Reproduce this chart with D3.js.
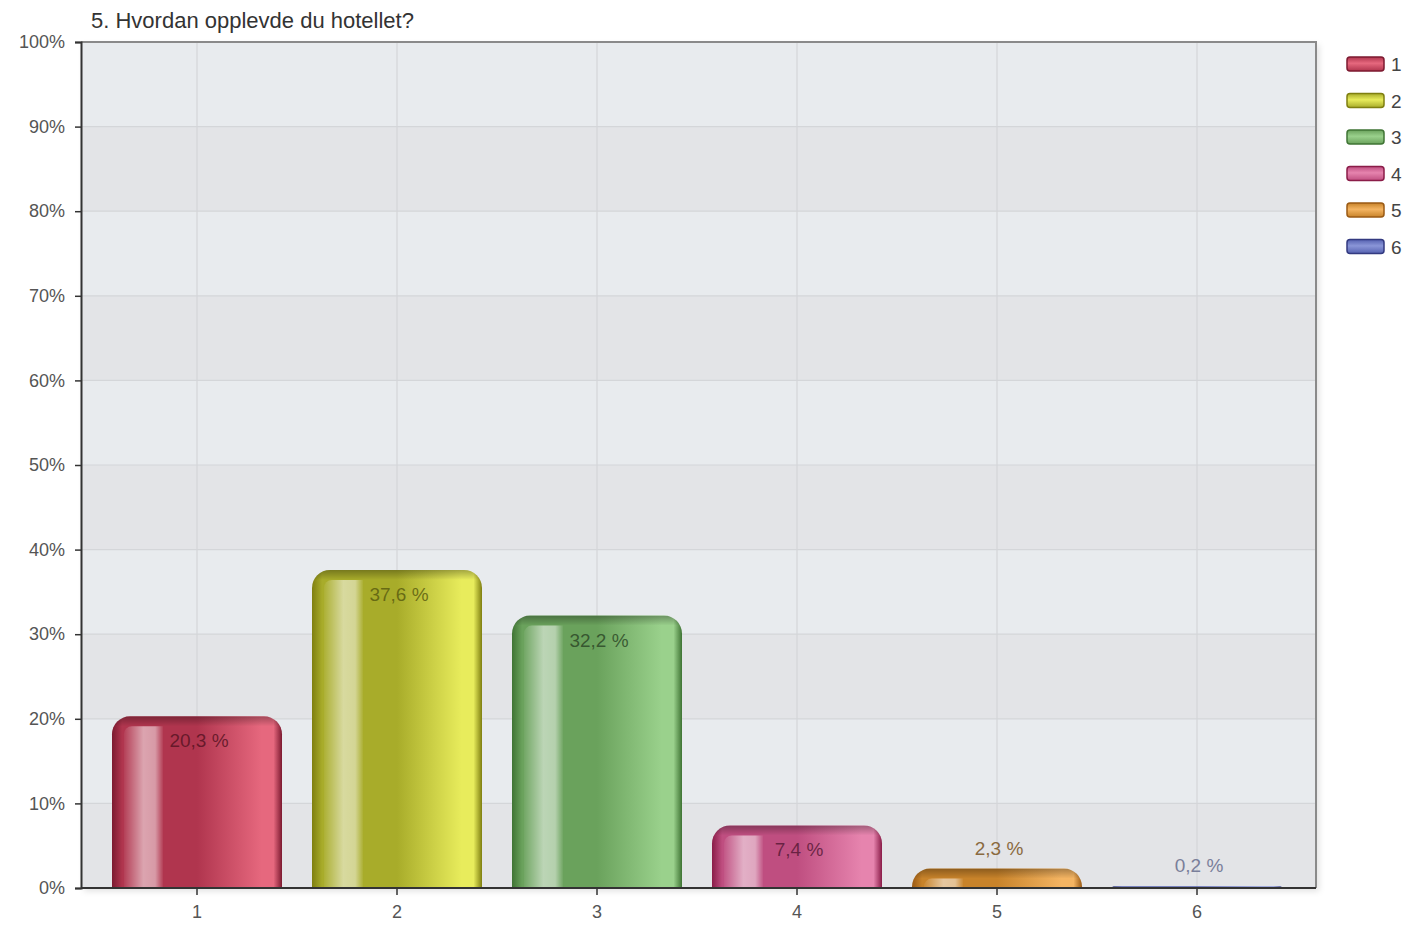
<!DOCTYPE html>
<html>
<head>
<meta charset="utf-8">
<script src="https://d3js.org/d3.v7.min.js"></script>
<style>
  body { margin: 0; background: #fff; }
  svg text { font-family: "Liberation Sans", Arial, sans-serif; }
</style>
</head>
<body>
<div id="chart"></div>
<script>
// Data
const categories = ["1", "2", "3", "4", "5", "6"];
const values = [20.3, 37.6, 32.2, 7.4, 2.3, 0.2];
const labels = ["20,3 %", "37,6 %", "32,2 %", "7,4 %", "2,3 %", "0,2 %"];
const yTicks = [0, 10, 20, 30, 40, 50, 60, 70, 80, 90, 100];
const title = "5. Hvordan opplevde du hotellet?";

// bar colours: dark edge, mid, light
const palette = [
  { dark: "#7c1a30", mid: "#b0354e", light: "#e6687e", text: "#5a1424" },
  { dark: "#7f7f10", mid: "#a8ac2a", light: "#e8ec5c", text: "#5c5e10" },
  { dark: "#3f7434", mid: "#6aa25c", light: "#9ad18c", text: "#2e4a28" },
  { dark: "#8a1c48", mid: "#bf4e80", light: "#e684ae", text: "#5a1a38" },
  { dark: "#9a5a14", mid: "#c8832a", light: "#f4b462", text: "#8a6a40" },
  { dark: "#333a80", mid: "#5561b0", light: "#8a96d8", text: "#7a7f9a" }
];

const margin = { top: 42, right: 92, bottom: 38, left: 81 };
const totalW = 1408, totalH = 926;
const width = totalW - margin.left - margin.right;
const height = totalH - margin.top - margin.bottom;

const svgRoot = d3.select("#chart").append("svg")
  .attr("width", totalW)
  .attr("height", totalH);

const defs = svgRoot.append("defs");

// drop shadow for plot area
const shadow = defs.append("filter").attr("id", "shadow")
  .attr("x", "-2%").attr("y", "-2%").attr("width", "105%").attr("height", "106%");
shadow.append("feDropShadow").attr("dx", 3).attr("dy", 3).attr("stdDeviation", 3)
  .attr("flood-color", "#000").attr("flood-opacity", 0.12);

palette.forEach((p, i) => {
  const g = defs.append("linearGradient").attr("id", "barGrad" + i)
    .attr("x1", "0%").attr("x2", "100%").attr("y1", "0%").attr("y2", "0%");
  [[0, p.dark], [0.06, p.mid], [0.5, p.mid], [0.88, p.light], [0.95, p.light], [1, p.dark]]
    .forEach(s => g.append("stop").attr("offset", s[0]).attr("stop-color", s[1]));
});

const hl = defs.append("linearGradient").attr("id", "hlGrad")
  .attr("x1", "0%").attr("x2", "100%");
[[0, 0.05], [0.5, 0.55], [0.8, 0.5], [1, 0.05]]
  .forEach(s => hl.append("stop").attr("offset", s[0]).attr("stop-color", "#fff").attr("stop-opacity", s[1]));

const topShade = defs.append("linearGradient").attr("id", "topGrad")
  .attr("x1", "0%").attr("x2", "0%").attr("y1", "0%").attr("y2", "100%");
[[0, 0.3], [1, 0]]
  .forEach(s => topShade.append("stop").attr("offset", s[0]).attr("stop-color", "#000").attr("stop-opacity", s[1]));

const svg = svgRoot.append("g")
  .attr("transform", `translate(${margin.left},${margin.top})`);

// Scales
const x = d3.scaleBand()
  .domain(categories)
  .range([16, width - 19])
  .paddingInner(0.15)
  .paddingOuter(0.075);

const y = d3.scaleLinear()
  .domain([0, 100])
  .range([height, 0]);

// Plot background with shadow
svg.append("rect")
  .attr("x", 0).attr("y", 0)
  .attr("width", width).attr("height", height)
  .attr("fill", "#e6e8eb")
  .attr("filter", "url(#shadow)");

// alternating stripes
yTicks.slice(0, -1).forEach((t, i) => {
  svg.append("rect")
    .attr("x", 0)
    .attr("y", y(t + 10))
    .attr("width", width)
    .attr("height", y(t) - y(t + 10))
    .attr("fill", i % 2 === 0 ? "#e3e4e7" : "#e8ebee");
});

// horizontal grid
svg.selectAll(".hgrid")
  .data(yTicks.slice(1, -1))
  .enter().append("line")
  .attr("x1", 0).attr("x2", width)
  .attr("y1", d => y(d)).attr("y2", d => y(d))
  .attr("stroke", "#d4d6d9").attr("stroke-width", 1.2);

// vertical grid at band centers
svg.selectAll(".vgrid")
  .data(categories)
  .enter().append("line")
  .attr("x1", d => x(d) + x.bandwidth() / 2)
  .attr("x2", d => x(d) + x.bandwidth() / 2)
  .attr("y1", 0).attr("y2", height)
  .attr("stroke", "#d4d6d9").attr("stroke-width", 1.2);

// border top/right
svg.append("path")
  .attr("d", `M0,0H${width}V${height}`)
  .attr("fill", "none")
  .attr("stroke", "#8a8a8a")
  .attr("stroke-width", 2);

// Bars
const r = 18;
function barPath(x0, y0, w, h) {
  const rr = Math.min(r, h, w / 2);
  return `M${x0},${y0 + h}V${y0 + rr}A${rr},${rr} 0 0 1 ${x0 + rr},${y0}H${x0 + w - rr}A${rr},${rr} 0 0 1 ${x0 + w},${y0 + rr}V${y0 + h}Z`;
}

categories.forEach((c, i) => {
  const bx = x(c);
  const bw = x.bandwidth();
  const by = y(values[i]);
  const bh = height - by;
  const g = svg.append("g");
  const d = barPath(bx, by, bw, bh);

  defs.append("clipPath").attr("id", "clip" + i)
    .append("path").attr("d", d);

  g.append("path")
    .attr("d", d)
    .attr("fill", `url(#barGrad${i})`);

  if (bh > 12) {
    const inner = g.append("g").attr("clip-path", `url(#clip${i})`);
    // highlight strip
    const hx = bx + bw * 0.07;
    const hw = bw * 0.23;
    const hy = by + 10;
    inner.append("path")
      .attr("d", `M${hx},${by + bh}V${hy + 8}A8,8 0 0 1 ${hx + 8},${hy}H${hx + hw}V${by + bh}Z`)
      .attr("fill", "url(#hlGrad)");
    // top bevel
    inner.append("rect")
      .attr("x", bx).attr("y", by)
      .attr("width", bw).attr("height", Math.min(10, bh))
      .attr("fill", "url(#topGrad)");
  }

  // value label
  const inside = bh > 40;
  g.append("text")
    .attr("x", bx + bw / 2 + 2)
    .attr("y", inside ? by + 31 : by - 14)
    .attr("text-anchor", "middle")
    .attr("font-size", 19)
    .attr("fill", palette[i].text)
    .attr("fill-opacity", inside ? 0.85 : 1)
    .text(labels[i]);
});

// Axes
const yAxis = svg.append("g")
  .call(d3.axisLeft(y).tickValues(yTicks).tickFormat(d => d + "%").tickSize(6).tickPadding(10));
yAxis.select(".domain").attr("stroke", "#333").attr("stroke-width", 2);
yAxis.selectAll(".tick line").attr("stroke", "#333").attr("stroke-width", 1.5);
yAxis.selectAll(".tick text").attr("font-size", 18).attr("fill", "#555")
  .attr("font-family", "Liberation Sans, Arial, sans-serif");

const xAxis = svg.append("g")
  .attr("transform", `translate(0,${height})`)
  .call(d3.axisBottom(x).tickSize(7).tickPadding(10).tickSizeOuter(0));
xAxis.select(".domain").remove();
xAxis.append("line")
  .attr("x1", 0).attr("x2", width)
  .attr("stroke", "#333").attr("stroke-width", 2);
xAxis.selectAll(".tick line").attr("stroke", "#333").attr("stroke-width", 1.5);
xAxis.selectAll(".tick text").attr("font-size", 18).attr("fill", "#555")
  .attr("font-family", "Liberation Sans, Arial, sans-serif");

// Title
svgRoot.append("text")
  .attr("x", 91)
  .attr("y", 28)
  .attr("font-size", 22)
  .attr("fill", "#333")
  .text(title);

// Legend
const legend = svgRoot.append("g")
  .attr("transform", `translate(1347, 57)`);

categories.forEach((c, i) => {
  const ly = i * 36.5;
  const lg = defs.append("linearGradient").attr("id", "legGrad" + i)
    .attr("x1", "0%").attr("x2", "0%").attr("y1", "0%").attr("y2", "100%");
  [[0, palette[i].mid], [0.45, palette[i].light], [1, palette[i].mid]]
    .forEach(s => lg.append("stop").attr("offset", s[0]).attr("stop-color", s[1]));
  legend.append("rect")
    .attr("x", 0).attr("y", ly)
    .attr("width", 37).attr("height", 14)
    .attr("rx", 3)
    .attr("fill", `url(#legGrad${i})`)
    .attr("stroke", palette[i].dark)
    .attr("stroke-width", 1.5);
  legend.append("text")
    .attr("x", 44).attr("y", ly + 14)
    .attr("font-size", 19)
    .attr("fill", "#444")
    .text(c);
});
</script>
</body>
</html>
